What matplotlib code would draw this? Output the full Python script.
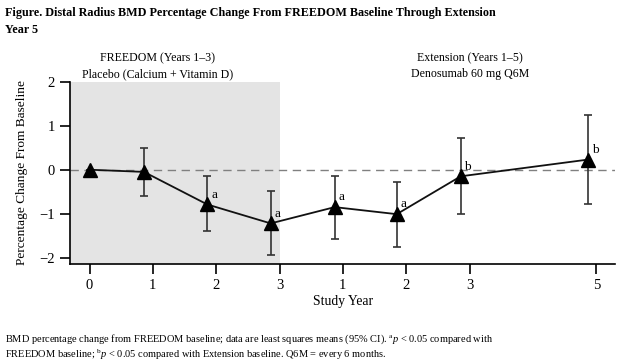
import matplotlib.pyplot as plt

plt.rcParams["font.family"] = "Liberation Serif"
plt.rcParams["mathtext.fontset"] = "custom"
plt.rcParams["mathtext.rm"] = "Liberation Serif"
plt.rcParams["mathtext.it"] = "Liberation Serif:italic"

# study timeline (axis positions) and tick labels
tick_pos = [0, 1, 2, 3, 4, 5, 6, 8]
tick_labels = ["0", "1", "2", "3", "1", "2", "3", "5"]

# observed time points (slightly before each tick) and LS means with 95% CI
visit_x = [0, 0.86, 1.86, 2.86, 3.87, 4.85, 5.86, 7.87]
ls_mean = [0.0, -0.05, -0.79, -1.22, -0.85, -1.01, -0.15, 0.23]
ci_low = [0.0, -0.60, -1.40, -1.94, -1.58, -1.76, -1.01, -0.78]
ci_high = [0.0, 0.50, -0.15, -0.49, -0.15, -0.27, 0.71, 1.25]
sig_marks = ["", "", "a", "a", "a", "a", "b", "b"]

fig = plt.figure(figsize=(6.24, 3.63), dpi=100)
ax = fig.add_axes([0.112, 0.273, 0.874, 0.502])

ax.axvspan(-0.31, 3.0, color="#e4e4e4", lw=0, zorder=0)
ax.axhline(0, color="#808080", lw=1.0, ls=(0, (6, 4)), zorder=1)

yerr = [[m - lo for m, lo in zip(ls_mean, ci_low)],
        [hi - m for m, hi in zip(ls_mean, ci_high)]]
ax.errorbar(visit_x, ls_mean, yerr=yerr, fmt="none", ecolor="#333333",
            elinewidth=1.2, capsize=3, capthick=1.2, zorder=2)
ax.plot(visit_x, ls_mean, color="#111111", lw=1.3, marker="^",
        markersize=10.5, markerfacecolor="black", markeredgecolor="black",
        zorder=3)

for x, y, s in zip(visit_x, ls_mean, sig_marks):
    if s:
        ax.annotate(s, (x, y), xytext=(5, 7), textcoords="offset points",
                    ha="center", va="center", fontsize=9.5)

ax.set_xlim(-0.31, 8.3)
ax.set_ylim(-2.14, 2.0)
ax.set_xticks(tick_pos)
ax.set_xticklabels(tick_labels)
ax.set_yticks([-2, -1, 0, 1, 2])
ax.set_yticklabels(["\u22122", "\u22121", "0", "1", "2"])
ax.tick_params(length=7, width=1.2, labelsize=10.5, direction="out", pad=4)
for side in ["top", "right"]:
    ax.spines[side].set_visible(False)
for side in ["left", "bottom"]:
    ax.spines[side].set_linewidth(1.2)

ax.set_xlabel("Study Year", fontsize=9.8, labelpad=2)
ax.set_ylabel("Percentage Change From Baseline", fontsize=9.6, labelpad=8)

fig.text(0.008, 0.965, "Figure. Distal Radius BMD Percentage Change From FREEDOM Baseline Through Extension",
         fontsize=8.7, fontweight="bold", va="center")
fig.text(0.008, 0.917, "Year 5", fontsize=8.7, fontweight="bold", va="center")

fig.text(158 / 624, 1 - 58 / 363, "FREEDOM (Years 1\u20133)", fontsize=8.6, ha="center", va="center")
fig.text(158 / 624, 1 - 74 / 363, "Placebo (Calcium + Vitamin D)", fontsize=8.6, ha="center", va="center")
fig.text(470 / 624, 1 - 58 / 363, "Extension (Years 1\u20135)", fontsize=8.6, ha="center", va="center")
fig.text(470 / 624, 1 - 74 / 363, "Denosumab 60 mg Q6M", fontsize=8.6, ha="center", va="center")

fig.text(0.008, 1 - 339 / 363,
         "BMD percentage change from FREEDOM baseline; data are least squares means (95% CI). "
         "$^{\\mathrm{a}}\\mathit{p}$ < 0.05 compared with",
         fontsize=7.5, va="center")
fig.text(0.008, 1 - 355 / 363,
         "FREEDOM baseline; $^{\\mathrm{b}}\\mathit{p}$ < 0.05 compared with Extension baseline. "
         "Q6M = every 6 months.",
         fontsize=7.5, va="center")

fig.savefig("out.png", dpi=100)
